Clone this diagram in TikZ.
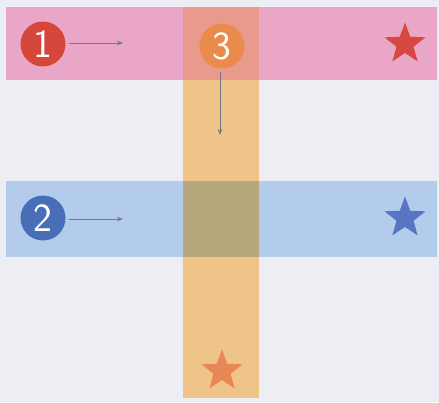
\documentclass[tikz,border=0pt]{standalone}
\usetikzlibrary{shapes.geometric,arrows.meta}
\definecolor{bg}{RGB}{237,238,244}
\definecolor{pinkband}{RGB}{234,166,198}
\definecolor{blueband}{RGB}{180,204,236}
\definecolor{orangeband}{RGB}{238,196,136}
\definecolor{pinkorange}{RGB}{234,154,140}
\definecolor{blueorange}{RGB}{182,168,124}
\definecolor{cred}{RGB}{214,70,58}
\definecolor{corange}{RGB}{234,138,76}
\definecolor{cblue}{RGB}{72,110,184}
\definecolor{sred}{RGB}{216,72,64}
\definecolor{sblue}{RGB}{86,118,196}
\definecolor{sorange}{RGB}{232,134,86}
\definecolor{arr}{RGB}{118,118,138}
\tikzset{
  numcirc/.style={circle, minimum size=45pt, inner sep=0pt, text=white,
    font=\sffamily\fontsize{40}{40}\selectfont},
  starnode/.style={star, star points=5, star point ratio=2.4, minimum size=43pt, inner sep=0pt, draw=none},
  flow/.style={draw=arr, line width=0.9pt, -{Stealth[length=6pt,width=4.5pt]}, shorten <=3pt}
}
\begin{document}
\begin{tikzpicture}[x=1pt,y=-1pt]
\fill[bg] (0,0) rectangle (439,402);
\useasboundingbox (0,0) rectangle (439,402);
% bands
\fill[pinkband] (6,7) rectangle (437,80);
\fill[blueband] (6,181) rectangle (437,257);
\fill[orangeband] (183,7) rectangle (259,398);
\fill[pinkorange] (183,7) rectangle (259,80);
\fill[blueorange] (183,181) rectangle (259,257);
% circles
\node[numcirc, fill=cred] (c1) at (43,44) {1};
\node[numcirc, fill=corange] (c3) at (222,46) {3};
\node[numcirc, fill=cblue] (c2) at (43,218) {2};
% stars
\node[starnode, fill=sred] (s1) at (405,44) {};
\node[starnode, fill=sblue] (s2) at (405,218) {};
\node[starnode, fill=sorange] (s3) at (222,371) {};
% arrow ends
\coordinate (e1) at (123,43);
\coordinate (e2) at (123,219);
\coordinate (e3) at (220,135);
\draw[flow] (c1.east |- e1) -- (e1);
\draw[flow] (c2.east |- e2) -- (e2);
\draw[flow] (c3.south -| e3) -- (e3);
\end{tikzpicture}
\end{document}
